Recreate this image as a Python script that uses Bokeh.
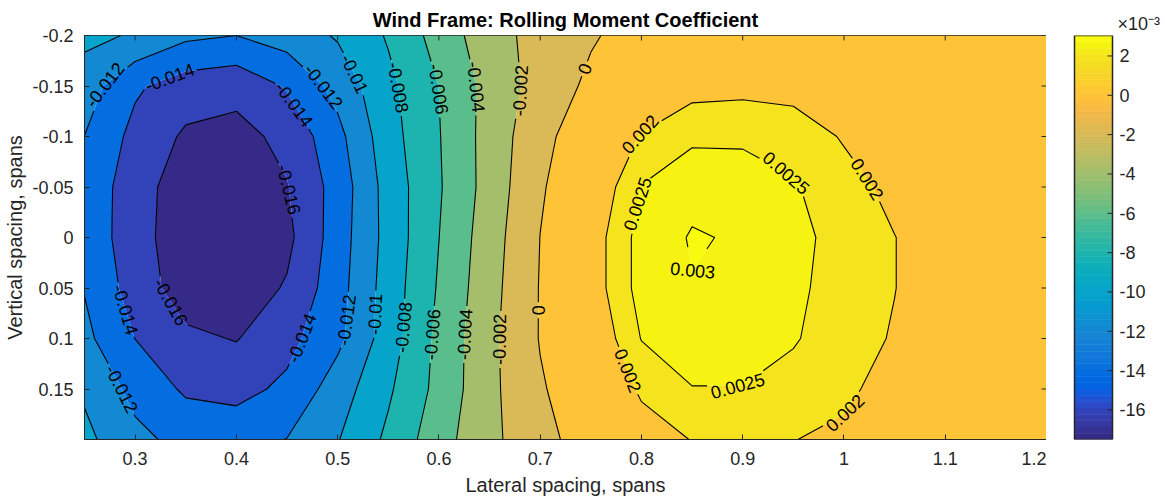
import numpy as np
import contourpy
from bokeh.plotting import figure
from bokeh.layouts import row
from bokeh.models import FixedTicker, CustomJSTickFormatter, Range1d, Title
from bokeh.core.properties import value
from bokeh.embed import file_html
from bokeh.resources import INLINE

# ---- measurement grid -------------------------------------------------------
lateral = [0.25, 0.30, 0.35, 0.40, 0.45, 0.50, 0.55, 0.60, 0.65, 0.70,
           0.75, 0.80, 0.85, 0.90, 0.95, 1.00, 1.05, 1.10, 1.15, 1.20]
vertical = [-0.20, -0.15, -0.10, -0.05, 0.00, 0.05, 0.10, 0.15, 0.20]

# rolling moment coefficient, one row per vertical spacing, one column per lateral spacing
cl_y_m020 = [-0.0095, -0.0102, -0.0116, -0.0120, -0.0111, -0.0098, -0.0078, -0.0052, -0.0028, -0.0013,
             -0.0002, 0.0008, 0.0012, 0.0013, 0.0013, 0.0013, 0.0012, 0.0012, 0.0011, 0.0011]
cl_y_m015 = [-0.0110, -0.0137, -0.0150, -0.0154, -0.0138, -0.0113, -0.0085, -0.00598, -0.0033, -0.0012,
             0.0004, 0.0014, 0.0018, 0.00185, 0.0018, 0.0016, 0.0015, 0.0013, 0.0012, 0.0011]
cl_y_m010 = [-0.01202, -0.0146, -0.0163, -0.0166, -0.0155, -0.0126, -0.0088, -0.0061, -0.0032, -0.0006,
             0.0013, 0.00205, 0.0024, 0.0024, 0.0023, 0.00195, 0.0017, 0.0015, 0.0013, 0.0012]
cl_y_m005 = [-0.0125, -0.0152, -0.0170, -0.0173, -0.0161, -0.0132, -0.0092, -0.0062, -0.0032, -0.0002,
             0.0015, 0.00252, 0.00285, 0.0028, 0.00255, 0.0022, 0.00185, 0.0016, 0.0014, 0.00125]
cl_y_000 = [-0.0126, -0.0152, -0.0172, -0.0175, -0.0165, -0.0130, -0.0093, -0.00602, -0.0029, 0.00002,
            0.0017, 0.0027, 0.00304, 0.00295, 0.00262, 0.00235, 0.00201, 0.0017, 0.0014, 0.00125]
cl_y_005 = [-0.0121, -0.0149, -0.0170, -0.0172, -0.0158, -0.0128, -0.0091, -0.0058, -0.0027, 0.0001,
            0.0017, 0.0027, 0.00298, 0.00293, 0.0026, 0.0023, 0.00201, 0.0017, 0.00145, 0.0013]
cl_y_010 = [-0.0115, -0.01402, -0.0156, -0.0161, -0.0146, -0.0125, -0.0090, -0.0055, -0.0025, 0.0001,
            0.0015, 0.00252, 0.0028, 0.0028, 0.00255, 0.0022, 0.00196, 0.0016, 0.0014, 0.0013]
cl_y_015 = [-0.0103, -0.0126, -0.0143, -0.0146, -0.0136, -0.0110, -0.0083, -0.0054, -0.0025, -0.0002,
            0.0013, 0.0021, 0.00248, 0.00248, 0.0023, 0.0021, 0.0018, 0.0015, 0.0013, 0.0012]
cl_y_020 = [-0.0095, -0.0115, -0.0126, -0.0128, -0.01195, -0.0101, -0.0076, -0.0048, -0.0025, -0.0006,
            0.0009, 0.0017, 0.00202, 0.0021, 0.00201, 0.0019, 0.0017, 0.0015, 0.0013, 0.0012]

levels = [-0.016, -0.014, -0.012, -0.010, -0.008, -0.006, -0.004, -0.002, 0.0, 0.002, 0.0025, 0.003]

x_ticks = [0.3, 0.4, 0.5, 0.6, 0.7, 0.8, 0.9, 1.0, 1.1, 1.2]
y_ticks = [-0.2, -0.15, -0.1, -0.05, 0.0, 0.05, 0.1, 0.15]
cbar_ticks = [-0.016, -0.014, -0.012, -0.010, -0.008, -0.006, -0.004, -0.002, 0.0, 0.002]

# where the in-line contour labels sit (level, lateral, vertical)
label_spots = [
    (-0.012, 0.274, -0.146), (-0.014, 0.335, -0.156), (-0.012, 0.491, -0.152),
    (-0.014, 0.457, -0.132), (-0.010, 0.524, -0.166), (-0.008, 0.565, -0.149),
    (-0.016, 0.447, -0.047), (-0.016, 0.332, 0.066), (-0.014, 0.289, 0.072),
    (-0.012, 0.283, 0.152), (-0.014, 0.469, 0.101), (-0.012, 0.511, 0.082),
    (-0.010, 0.540, 0.076), (-0.008, 0.566, 0.089), (-0.006, 0.598, -0.147),
    (-0.004, 0.637, -0.149), (-0.002, 0.677, -0.146), (0.0, 0.744, -0.167),
    (-0.006, 0.593, 0.096), (-0.004, 0.625, 0.096), (-0.002, 0.655, 0.101),
    (0.0, 0.697, 0.072), (0.002, 0.806, -0.096), (0.002, 1.022, -0.057),
    (0.0025, 0.804, -0.032), (0.0025, 0.937, -0.053), (0.003, 0.865, 0.042),
    (0.002, 0.781, 0.134), (0.0025, 0.895, 0.144), (0.002, 0.997, 0.171),
]

# ---- parula colormap (64 entries) ------------------------------------------
PARULA = [
    (0.2081, 0.1663, 0.5292), (0.2116, 0.1898, 0.5777), (0.2123, 0.2138, 0.6270), (0.2081, 0.2386, 0.6771),
    (0.1959, 0.2645, 0.7279), (0.1707, 0.2919, 0.7792), (0.1253, 0.3242, 0.8303), (0.0591, 0.3598, 0.8683),
    (0.0117, 0.3875, 0.8820), (0.0060, 0.4086, 0.8828), (0.0165, 0.4266, 0.8786), (0.0329, 0.4430, 0.8720),
    (0.0498, 0.4586, 0.8641), (0.0629, 0.4737, 0.8554), (0.0723, 0.4887, 0.8467), (0.0779, 0.5040, 0.8384),
    (0.0793, 0.5200, 0.8312), (0.0749, 0.5375, 0.8263), (0.0641, 0.5570, 0.8240), (0.0488, 0.5772, 0.8228),
    (0.0343, 0.5966, 0.8199), (0.0265, 0.6137, 0.8135), (0.0239, 0.6287, 0.8038), (0.0231, 0.6418, 0.7913),
    (0.0228, 0.6535, 0.7768), (0.0267, 0.6642, 0.7607), (0.0384, 0.6743, 0.7436), (0.0590, 0.6838, 0.7254),
    (0.0843, 0.6928, 0.7062), (0.1133, 0.7015, 0.6859), (0.1453, 0.7098, 0.6646), (0.1801, 0.7177, 0.6424),
    (0.2178, 0.7250, 0.6193), (0.2586, 0.7317, 0.5954), (0.3022, 0.7376, 0.5712), (0.3482, 0.7424, 0.5473),
    (0.3953, 0.7459, 0.5244), (0.4420, 0.7481, 0.5033), (0.4871, 0.7491, 0.4840), (0.5300, 0.7491, 0.4661),
    (0.5709, 0.7485, 0.4494), (0.6099, 0.7473, 0.4337), (0.6473, 0.7456, 0.4188), (0.6834, 0.7435, 0.4044),
    (0.7184, 0.7411, 0.3905), (0.7525, 0.7384, 0.3768), (0.7858, 0.7356, 0.3633), (0.8185, 0.7327, 0.3498),
    (0.8507, 0.7299, 0.3360), (0.8824, 0.7274, 0.3217), (0.9139, 0.7258, 0.3063), (0.9450, 0.7261, 0.2886),
    (0.9739, 0.7314, 0.2666), (0.9938, 0.7455, 0.2403), (0.9990, 0.7653, 0.2164), (0.9955, 0.7861, 0.1967),
    (0.9880, 0.8066, 0.1794), (0.9789, 0.8271, 0.1633), (0.9697, 0.8481, 0.1475), (0.9626, 0.8705, 0.1309),
    (0.9589, 0.8949, 0.1132), (0.9598, 0.9218, 0.0948), (0.9661, 0.9514, 0.0755), (0.9763, 0.9831, 0.0538),
]


def hexcol(rgb):
    return "#%02x%02x%02x" % tuple(int(round(c * 255)) for c in rgb)


PARULA_HEX = [hexcol(c) for c in PARULA]

Z = np.array([cl_y_m020, cl_y_m015, cl_y_m010, cl_y_m005, cl_y_000,
              cl_y_005, cl_y_010, cl_y_015, cl_y_020])
XG = np.array(lateral)
YG = np.array(vertical)
zmin, zmax = float(Z.min()), float(Z.max())
zspan = zmax - zmin


def cmap(v):
    t = (v - zmin) / zspan
    idx = int(np.floor(t * len(PARULA)))
    return PARULA_HEX[min(max(idx, 0), len(PARULA) - 1)]


FONT = "Liberation Sans"
AX_COLOR = "#262626"
TICK_SIZE = 18
LABEL_SIZE = 18

X0, X1 = 0.25, 1.2
Y0, Y1 = -0.2, 0.2
FW, FH = 962, 404
TOP, BOTTOM = 35, 63
SX = FW / (X1 - X0)
SY = FH / (Y1 - Y0)

# ---- main contour axes -------------------------------------------------------
p = figure(frame_width=FW, frame_height=FH,
           x_range=Range1d(X0, X1), y_range=Range1d(Y1, Y0),
           min_border_left=84, min_border_right=0, min_border_top=TOP, min_border_bottom=BOTTOM,
           toolbar_location=None, output_backend="svg",
           title="Wind Frame: Rolling Moment Coefficient")
p.grid.visible = False
p.outline_line_color = AX_COLOR
p.title.align = "center"
p.title.text_font = FONT
p.title.text_font_size = "20px"
p.title.text_font_style = "bold"
p.title.text_color = "black"
p.title.standoff = 10

# filled bands: each band takes the colour of its lower level
fill_levels = [zmin - 1e-9] + levels + [zmax + 1e-9]
band_colors = [cmap(zmin)] + [cmap(l) for l in levels]
p.contour(XG, YG, Z, fill_levels, fill_color=band_colors, line_color=None)

# contour lines with gaps where the labels go
gen = contourpy.contour_generator(XG, YG, Z)


def to_px(pts):
    return np.column_stack([pts[:, 0] * SX, -pts[:, 1] * SY])


def arc(P):
    d = np.hypot(*np.diff(P, axis=0).T)
    return np.concatenate([[0.0], np.cumsum(d)])


def point_at(P, cum, s):
    s = min(max(s, 0.0), cum[-1])
    i = int(np.searchsorted(cum, s, side="right")) - 1
    i = min(max(i, 0), len(P) - 2)
    seg = cum[i + 1] - cum[i]
    t = 0.0 if seg == 0 else (s - cum[i]) / seg
    return P[i] + t * (P[i + 1] - P[i])


def project(P, cum, h):
    best = (np.inf, 0.0)
    for i in range(len(P) - 1):
        d = P[i + 1] - P[i]
        L2 = float(d @ d)
        t = 0.0 if L2 == 0 else float(np.clip((h - P[i]) @ d / L2, 0.0, 1.0))
        q = P[i] + t * d
        dist = float(np.hypot(*(h - q)))
        if dist < best[0]:
            best = (dist, cum[i] + t * np.sqrt(L2))
    return best


def text_px(s):
    w = {".": 0.278, "-": 0.333}
    return LABEL_SIZE * sum(w.get(ch, 0.556) for ch in s)


line_xs, line_ys = [], []
lab_x, lab_y, lab_t, lab_a = [], [], [], []

for lev in levels:
    paths = [to_px(np.asarray(l)) for l in gen.lines(lev) if len(l) > 1]
    gaps = [[] for _ in paths]
    for hl, hx, hy in label_spots:
        if hl != lev or not paths:
            continue
        h = np.array([hx * SX, -hy * SY])
        cands = []
        for k, P in enumerate(paths):
            d, s = project(P, arc(P), h)
            cands.append((d, k, s))
        d, k, s = min(cands)
        P = paths[k]
        cum = arc(P)
        L = cum[-1]
        txt = f"{lev:g}"
        half = text_px(txt) / 2 + 3
        closed = bool(np.allclose(P[0], P[-1]))

        def at(u):
            if closed:
                u = u % L
            return point_at(P, cum, u)

        c = at(s)
        a, b = at(s - half), at(s + half)
        ang = np.arctan2(b[1] - a[1], b[0] - a[0])
        if ang > np.pi / 2:
            ang -= np.pi
        elif ang <= -np.pi / 2:
            ang += np.pi
        lab_x.append(c[0] / SX)
        lab_y.append(-c[1] / SY)
        lab_t.append(txt)
        lab_a.append(float(ang))
        lo, hi = s - half, s + half
        if closed:
            if lo < 0:
                gaps[k] += [(0.0, hi), (L + lo, L)]
            elif hi > L:
                gaps[k] += [(lo, L), (0.0, hi - L)]
            else:
                gaps[k].append((lo, hi))
        else:
            gaps[k].append((max(lo, 0.0), min(hi, L)))
    for k, P in enumerate(paths):
        cum = arc(P)
        L = cum[-1]
        keep, cur = [], 0.0
        for lo, hi in sorted(gaps[k]):
            if lo > cur:
                keep.append((cur, lo))
            cur = max(cur, hi)
        if cur < L:
            keep.append((cur, L))
        for lo, hi in keep:
            if hi - lo < 0.5:
                continue
            inner = P[(cum > lo) & (cum < hi)]
            seg = np.vstack([point_at(P, cum, lo), inner, point_at(P, cum, hi)])
            line_xs.append(list(seg[:, 0] / SX))
            line_ys.append(list(-seg[:, 1] / SY))

p.multi_line(line_xs, line_ys, line_color="black", line_width=1.1)
p.text(x=lab_x, y=lab_y, text=lab_t, angle=lab_a,
       text_align="center", text_baseline="middle",
       text_font=value(FONT), text_font_size=f"{LABEL_SIZE}px", text_color="black")

# inward ticks on the top and right edges of the box
p.segment(x0=x_ticks, y0=[Y0] * len(x_ticks), x1=x_ticks, y1=[Y0 + 5 / SY] * len(x_ticks),
          line_color=AX_COLOR, line_width=1)
p.segment(x0=[X1] * len(y_ticks), y0=y_ticks, x1=[X1 - 5 / SX] * len(y_ticks), y1=y_ticks,
          line_color=AX_COLOR, line_width=1)

fmt = CustomJSTickFormatter(code="return String(Math.round(tick * 100) / 100);")
for ax, ticks, lab in ((p.xaxis[0], x_ticks, "Lateral spacing, spans"),
                       (p.yaxis[0], y_ticks, "Vertical spacing, spans")):
    ax.ticker = FixedTicker(ticks=ticks)
    ax.formatter = fmt
    ax.axis_label = lab
    ax.axis_label_text_font = FONT
    ax.axis_label_text_font_size = "20px"
    ax.axis_label_text_font_style = "normal"
    ax.axis_label_text_color = AX_COLOR
    ax.major_label_text_font = FONT
    ax.major_label_text_font_size = f"{TICK_SIZE}px"
    ax.major_label_text_color = AX_COLOR
    ax.axis_line_color = AX_COLOR
    ax.major_tick_line_color = AX_COLOR
    ax.major_tick_in = 5
    ax.major_tick_out = 0
    ax.minor_tick_line_color = None
p.xaxis[0].major_label_standoff = 12
p.xaxis[0].axis_label_standoff = 6
p.yaxis[0].major_label_standoff = 11
p.yaxis[0].axis_label_standoff = 3

# ---- colour bar: its frame is as tall as the bar, x in pixels ----------------
CB_W = 119
BAR_L, BAR_R = 28, 66
cb = figure(frame_width=CB_W, frame_height=FH,
            x_range=Range1d(0, CB_W), y_range=Range1d(zmin, zmax),
            min_border_left=0, min_border_right=0, min_border_top=TOP, min_border_bottom=BOTTOM,
            x_axis_location=None, y_axis_location=None,
            toolbar_location=None, output_backend="svg")
cb.outline_line_color = None
cb.grid.visible = False
n = len(PARULA_HEX)
edges = np.linspace(zmin, zmax, n + 1)
cb.quad(left=BAR_L, right=BAR_R, bottom=edges[:-1], top=edges[1:],
        fill_color=PARULA_HEX, line_color=PARULA_HEX, line_width=0.6)
cb.quad(left=[BAR_L], right=[BAR_R], bottom=[zmin], top=[zmax],
        fill_color=None, line_color=AX_COLOR, line_width=1.5)
k = len(cbar_ticks)
cb.segment(x0=[BAR_R] * k, y0=cbar_ticks, x1=[BAR_R - 5] * k, y1=cbar_ticks,
           line_color=AX_COLOR, line_width=1)
cb.text(x=[BAR_R + 7] * k, y=cbar_ticks, text=[str(int(round(t * 1000))) for t in cbar_ticks],
        text_align="left", text_baseline="middle",
        text_font=value(FONT), text_font_size=f"{TICK_SIZE}px", text_color=AX_COLOR)
# exponent of the colour-bar scale
cb.add_layout(Title(text="\u00d710\u207b\u00b3", align="left", offset=71,
                    text_font=FONT, text_font_size="18px", text_font_style="normal",
                    text_color=AX_COLOR, standoff=4), "above")

layout = row(p, cb)
open("out.html", "w").write(file_html(layout, INLINE))
